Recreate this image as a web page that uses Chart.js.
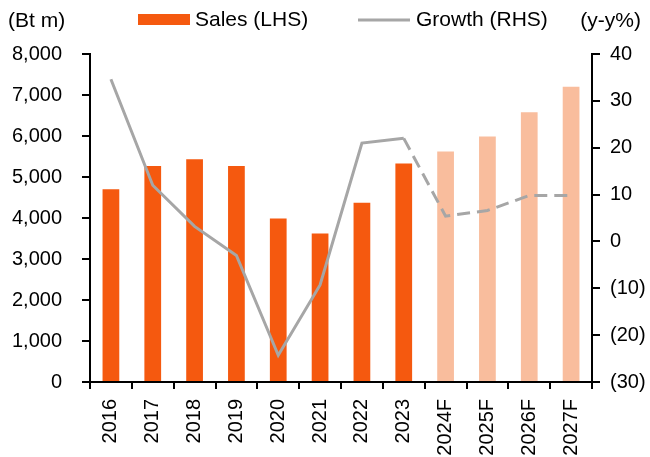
<!DOCTYPE html>
<html>
<head>
<meta charset="utf-8">
<script src="https://cdn.jsdelivr.net/npm/chart.js@4"></script>
<style>
    html, body { margin: 0; padding: 0; background: #fff; }
    #wrap { width: 650px; height: 457px; }
</style>
</head>
<body>
<div id="wrap"><canvas id="salesChart"></canvas></div>
<script>
// Chart data
const years = ["2016", "2017", "2018", "2019", "2020", "2021", "2022", "2023", "2024F", "2025F", "2026F", "2027F"];
const sales = [4700, 5270, 5430, 5270, 3990, 3620, 4370, 5330, 5620, 5990, 6580, 7200];
const growth = [34.6, 12.0, 3.2, -3.0, -24.3, -9.3, 21.0, 22.0, 5.4, 6.6, 9.8, 9.8];
const leftTicks = [0, 1000, 2000, 3000, 4000, 5000, 6000, 7000, 8000];
const rightTicks = [-30, -20, -10, 0, 10, 20, 30, 40];
const firstForecast = 8; // index of 2024F

const ORANGE = "#F5590F";
const ORANGE_LIGHT = "#F9BD9D";
const GREY = "#A6A6A6";
const FONT = "'Liberation Sans', Arial, sans-serif";

Chart.defaults.font.family = FONT;
Chart.defaults.font.size = 20;
Chart.defaults.color = "#000";

// Legend + unit labels drawn on top
const headerPlugin = {
    id: "header",
    afterDraw(chart) {
        const ctx = chart.ctx;
        ctx.save();
        ctx.font = "21px " + FONT;
        ctx.fillStyle = "#000";
        ctx.textBaseline = "middle";
        ctx.textAlign = "left";
        ctx.fillText("(Bt m)", 8, 21);

        ctx.fillStyle = ORANGE;
        ctx.fillRect(138, 14, 52, 11);
        ctx.fillStyle = "#000";
        ctx.fillText("Sales (LHS)", 195, 20);

        ctx.strokeStyle = GREY;
        ctx.lineWidth = 3;
        ctx.beginPath();
        ctx.moveTo(358, 20);
        ctx.lineTo(410, 20);
        ctx.stroke();
        ctx.fillText("Growth (RHS)", 416, 20);

        ctx.textAlign = "right";
        ctx.fillText("(y-y%)", 641, 21);
        ctx.restore();
    }
};

const axisGrid = {
    drawOnChartArea: false,
    drawTicks: true,
    tickLength: 8,
    color: "#000",
    lineWidth: 2
};

new Chart(document.getElementById("salesChart"), {
    data: {
        labels: years,
        datasets: [
            {
                type: "line",
                label: "Growth (RHS)",
                data: growth,
                yAxisID: "y1",
                borderColor: GREY,
                borderWidth: 3,
                pointRadius: 0,
                tension: 0,
                order: 0,
                segment: {
                    borderDash: ctx => ctx.p0DataIndex >= firstForecast - 1 ? [13, 7] : undefined
                }
            },
            {
                type: "bar",
                label: "Sales (LHS)",
                data: sales,
                yAxisID: "y",
                backgroundColor: sales.map((v, i) => i >= firstForecast ? ORANGE_LIGHT : ORANGE),
                barPercentage: 0.4,
                categoryPercentage: 1,
                order: 1
            }
        ]
    },
    options: {
        responsive: true,
        maintainAspectRatio: false,
        animation: false,
        layout: { padding: { top: 54, left: 0, right: 0, bottom: 0 } },
        plugins: {
            legend: { display: false },
            tooltip: { enabled: false }
        },
        scales: {
            x: {
                type: "category",
                offset: true,
                grid: { ...axisGrid, tickLength: 7, offset: true },
                border: { color: "#000", width: 2 },
                ticks: { minRotation: 90, maxRotation: 90, padding: 10, autoSkip: false },
                afterFit: s => { s.height = 75; }
            },
            y: {
                position: "left",
                min: 0,
                max: 8000,
                afterBuildTicks: s => { s.ticks = leftTicks.map(v => ({ value: v })); },
                grid: axisGrid,
                border: { color: "#000", width: 2 },
                ticks: {
                    padding: 20,
                    callback: v => v.toLocaleString("en-US")
                },
                afterFit: s => { s.width = 90; }
            },
            y1: {
                position: "right",
                min: -30,
                max: 40,
                afterBuildTicks: s => { s.ticks = rightTicks.map(v => ({ value: v })); },
                grid: axisGrid,
                border: { color: "#000", width: 2 },
                ticks: {
                    padding: 10,
                    callback: v => v < 0 ? "(" + (-v) + ")" : String(v)
                },
                afterFit: s => { s.width = 58; }
            }
        }
    },
    plugins: [headerPlugin]
});
</script>
</body>
</html>
